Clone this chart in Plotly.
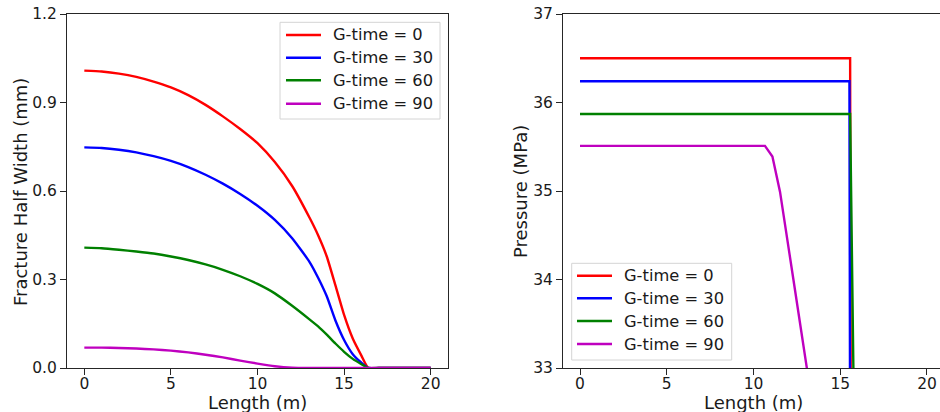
import plotly.graph_objects as go

# Fracture half width profiles along the fracture length
length_w = [0, 1, 2, 3, 4, 5, 6, 7, 8, 9, 10, 11, 12, 13, 13.5, 14, 14.5, 15, 15.5, 16, 16.4, 17, 18, 19, 20]
width_g0 = [1.008, 1.005, 0.998, 0.987, 0.971, 0.951, 0.925, 0.892, 0.853, 0.810, 0.762, 0.698, 0.617,
            0.510, 0.450, 0.378, 0.280, 0.180, 0.100, 0.042, 0.0, 0.0, 0.0, 0.0, 0.0]
width_g30 = [0.748, 0.746, 0.740, 0.731, 0.718, 0.702, 0.681, 0.655, 0.625, 0.590, 0.550, 0.502, 0.440,
             0.360, 0.306, 0.243, 0.161, 0.095, 0.047, 0.018, 0.0, 0.0, 0.0, 0.0, 0.0]
width_g60 = [0.408, 0.406, 0.401, 0.395, 0.388, 0.378, 0.366, 0.351, 0.333, 0.311, 0.285, 0.253, 0.211,
             0.165, 0.141, 0.113, 0.083, 0.055, 0.031, 0.013, 0.0, 0.0, 0.0, 0.0, 0.0]
width_g90 = [0.069, 0.069, 0.068, 0.066, 0.063, 0.059, 0.053, 0.045, 0.036, 0.025, 0.015, 0.006, 0.001,
             0.0, 0.0, 0.0, 0.0, 0.0, 0.0, 0.0, 0.0, 0.0, 0.0, 0.0, 0.0]

# Net pressure profiles along the fracture length
length_p0 = [0, 15.57, 15.62]
press_g0 = [36.50, 36.50, 31.0]
length_p30 = [0, 15.53, 15.58]
press_g30 = [36.24, 36.24, 31.0]
length_p60 = [0, 15.57, 15.90]
press_g60 = [35.87, 35.87, 30.8]
length_p90 = [0, 10.66, 11.09, 11.53, 12.30, 13.07, 13.50]
press_g90 = [35.51, 35.51, 35.39, 34.99, 34.00, 33.01, 32.45]

labels = ["G-time = 0", "G-time = 30", "G-time = 60", "G-time = 90"]
colors = ["#ff0000", "#0000ff", "#008000", "#bf00bf"]

x_ticks = [0, 5, 10, 15, 20]
w_ticks = [0.0, 0.3, 0.6, 0.9, 1.2]
w_ticktext = ["0.0", "0.3", "0.6", "0.9", "1.2"]
p_ticks = [33, 34, 35, 36, 37]

FONT = "DejaVu Sans"
W, H = 940, 412
TXT = "#1a1a1a"
LW = 2.4

fig = go.Figure()

for lab, col, w in zip(labels, colors, [width_g0, width_g30, width_g60, width_g90]):
    fig.add_trace(go.Scatter(x=length_w, y=w, mode="lines", name=lab,
                             line=dict(color=col, width=LW, shape="spline", smoothing=0.5),
                             xaxis="x", yaxis="y", showlegend=False))

for lab, col, xs, ps in zip(labels, colors,
                            [length_p0, length_p30, length_p60, length_p90],
                            [press_g0, press_g30, press_g60, press_g90]):
    fig.add_trace(go.Scatter(x=xs, y=ps, mode="lines", name=lab,
                             line=dict(color=col, width=LW),
                             xaxis="x2", yaxis="y2", showlegend=False))

axis_col = "#262626"
tick_font = dict(family=FONT, size=15.5, color=TXT)
TITLE_SIZE = 18
LEGEND_SIZE = 16.3

common = dict(showline=True, linecolor=axis_col, linewidth=1, ticks="outside",
              ticklen=6, tickcolor=axis_col, tickfont=tick_font, showgrid=False,
              zeroline=False, automargin=False)

y_top = 1 - 14 / H
y_bot = 1 - 368 / H


def px(x):
    return x / W


def py(y):
    return 1 - y / H


shapes = []
annotations = []

# Axis titles
for text, x, y, angle in [("Length (m)", 257.5, 402, 0),
                          ("Length (m)", 753, 402, 0),
                          ("Fracture Half Width (mm)", 20, 192, -90),
                          ("Pressure (MPa)", 520, 192, -90)]:
    annotations.append(dict(text=text, xref="paper", yref="paper", x=px(x), y=py(y),
                            xanchor="center", yanchor="middle", showarrow=False, textangle=angle,
                            font=dict(family=FONT, size=TITLE_SIZE, color=TXT)))


# Legend boxes drawn as framed panels with line samples and labels
def add_legend(box, line_x, text_x, rows):
    x0, y0, x1, y1 = box
    shapes.append(dict(type="rect", xref="paper", yref="paper",
                       x0=px(x0), x1=px(x1), y0=py(y1), y1=py(y0),
                       line=dict(color="#d4d4d4", width=1), fillcolor="rgba(255,255,255,0.8)",
                       layer="above"))
    for lab, col, yc in zip(labels, colors, rows):
        shapes.append(dict(type="line", xref="paper", yref="paper",
                           x0=px(line_x[0]), x1=px(line_x[1]), y0=py(yc), y1=py(yc),
                           line=dict(color=col, width=LW), layer="above"))
        annotations.append(dict(text=lab, xref="paper", yref="paper", x=px(text_x), y=py(yc),
                                xanchor="left", yanchor="middle", showarrow=False,
                                font=dict(family=FONT, size=LEGEND_SIZE, color=TXT)))


add_legend((280, 22.3, 440, 119), (286, 321), 331, [35, 57.7, 80.3, 103.7])
add_legend((571.7, 263.3, 731.7, 360), (577, 612), 621.5, [275.7, 298.3, 321, 344])

fig.update_layout(
    width=W, height=H,
    margin=dict(l=0, r=0, t=0, b=0),
    paper_bgcolor="white", plot_bgcolor="white",
    font=dict(family=FONT),
    showlegend=False,
    xaxis=dict(domain=[67 / W, 448 / W], range=[-1, 21], tickvals=x_ticks, mirror=True,
               anchor="y", ticklabelstandoff=-5, **common),
    yaxis=dict(domain=[y_bot, y_top], range=[0, 1.2], tickvals=w_ticks, ticktext=w_ticktext,
               mirror=True, anchor="x", **common),
    xaxis2=dict(domain=[563 / W, 1.0], range=[-0.98, 20.75], tickvals=x_ticks, mirror=True,
                anchor="y2", ticklabelstandoff=-5, **common),
    yaxis2=dict(domain=[y_bot, y_top], range=[33, 37], tickvals=p_ticks, anchor="x2", **common),
    shapes=shapes,
    annotations=annotations,
)

fig.write_html("out.html")
